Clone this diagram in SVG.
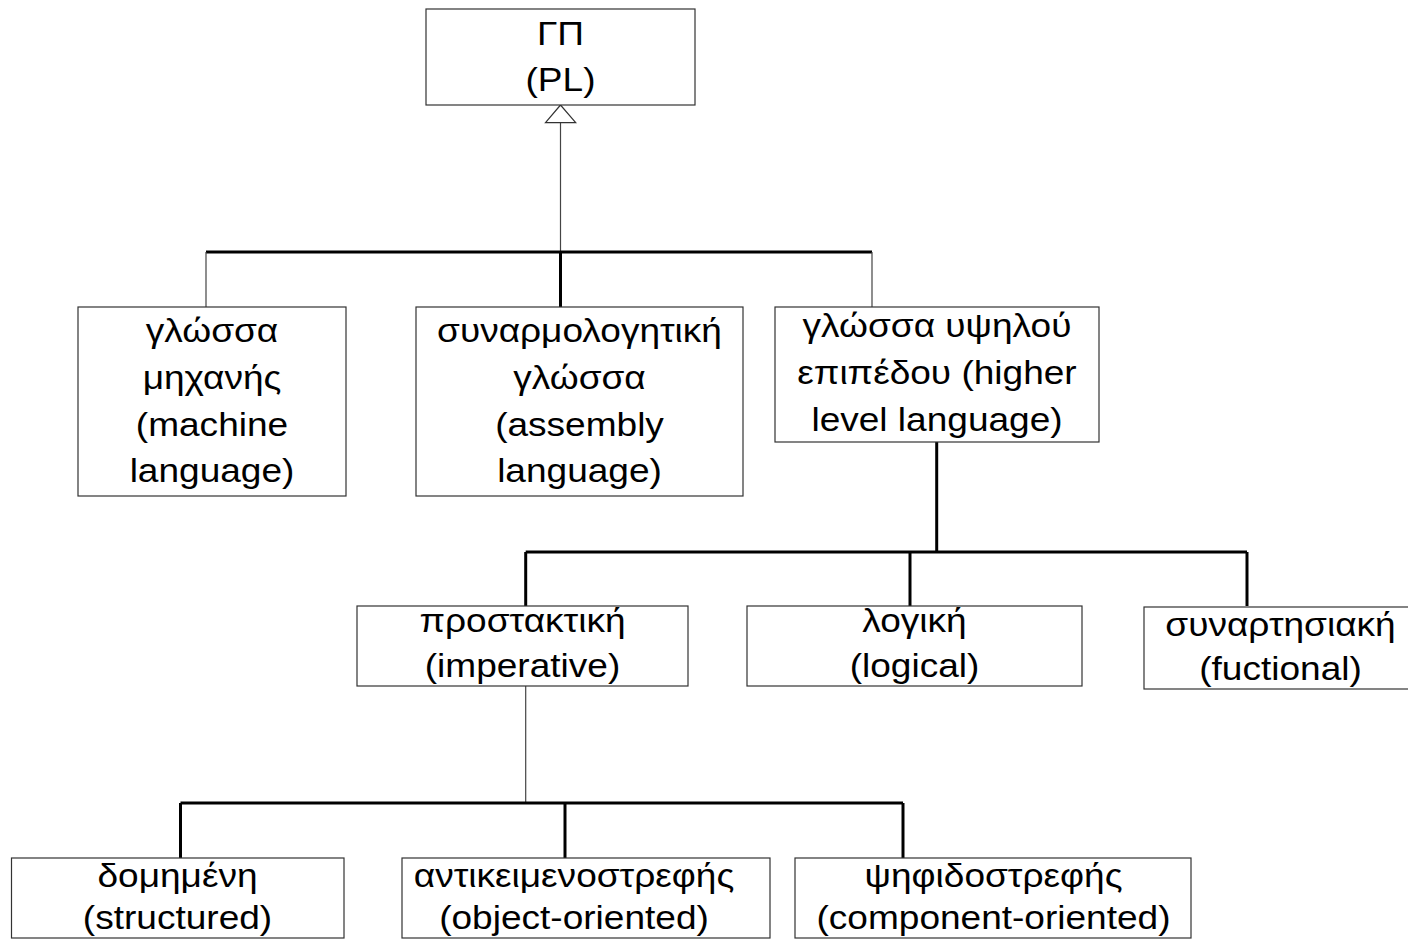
<svg xmlns="http://www.w3.org/2000/svg" width="1408" height="939" viewBox="0 0 1408 939">
<style>
  .box { fill: #ffffff; stroke: #333333; stroke-width: 1.2; }
  .lbl { font-family: "Liberation Sans", Arial, sans-serif; font-size: 32.5px; fill: #000000; text-anchor: middle; }
  .thick { stroke: #000000; stroke-width: 3; fill: none; }
  .thin { stroke: #444444; stroke-width: 1.2; fill: none; }
  .head { fill: #ffffff; stroke: #333333; stroke-width: 1.2; }
</style>
<rect width="1408" height="939" fill="#ffffff"/>

<g id="connectors">
  <!-- level 1 -->
  <line class="thin" x1="560.5" y1="123" x2="560.5" y2="252"/>
  <polygon class="head" points="560.5,105 545.5,122.7 575.7,122.7"/>
  <line class="thick" x1="206" y1="252" x2="872" y2="252"/>
  <line class="thin" x1="206" y1="252" x2="206" y2="307"/>
  <line class="thick" x1="560.5" y1="252" x2="560.5" y2="307"/>
  <line class="thin" x1="872" y1="252" x2="872" y2="307"/>
  <!-- level 2 -->
  <line class="thick" x1="936.7" y1="442" x2="936.7" y2="552"/>
  <line class="thick" x1="525.7" y1="552" x2="1247" y2="552"/>
  <line class="thick" x1="525.7" y1="552" x2="525.7" y2="606"/>
  <line class="thick" x1="910" y1="552" x2="910" y2="606"/>
  <line class="thick" x1="1247" y1="552" x2="1247" y2="606"/>
  <!-- level 3 -->
  <line class="thin" x1="525.7" y1="686" x2="525.7" y2="803"/>
  <line class="thick" x1="180.5" y1="803" x2="903" y2="803"/>
  <line class="thick" x1="180.5" y1="803" x2="180.5" y2="858"/>
  <line class="thick" x1="565" y1="803" x2="565" y2="858"/>
  <line class="thick" x1="903" y1="803" x2="903" y2="858"/>
</g>

<g id="node-pl">
  <rect class="box" x="426" y="9" width="269" height="96"/>
  <g transform="translate(560.5 0) scale(1.14 1)">
    <text class="lbl" x="0" y="45">ΓΠ</text>
    <text class="lbl" x="0" y="91">(PL)</text>
  </g>
</g>

<g id="node-machine">
  <rect class="box" x="78" y="307" width="268" height="189"/>
  <g transform="translate(212 0) scale(1.14 1)">
    <text class="lbl" x="0" y="342">γλώσσα</text>
    <text class="lbl" x="0" y="389">μηχανής</text>
    <text class="lbl" x="0" y="436">(machine</text>
    <text class="lbl" x="0" y="482">language)</text>
  </g>
</g>

<g id="node-assembly">
  <rect class="box" x="416" y="307" width="327" height="189"/>
  <g transform="translate(579.5 0) scale(1.14 1)">
    <text class="lbl" x="0" y="342">συναρμολογητική</text>
    <text class="lbl" x="0" y="389">γλώσσα</text>
    <text class="lbl" x="0" y="436">(assembly</text>
    <text class="lbl" x="0" y="482">language)</text>
  </g>
</g>

<g id="node-high">
  <rect class="box" x="775" y="307" width="324" height="135"/>
  <g transform="translate(937 0) scale(1.14 1)">
    <text class="lbl" x="0" y="337">γλώσσα υψηλού</text>
    <text class="lbl" x="0" y="384">επιπέδου (higher</text>
    <text class="lbl" x="0" y="431">level language)</text>
  </g>
</g>

<g id="node-imperative">
  <rect class="box" x="357" y="606" width="331" height="80"/>
  <g transform="translate(522.5 0) scale(1.14 1)">
    <text class="lbl" x="0" y="632">προστακτική</text>
    <text class="lbl" x="0" y="677">(imperative)</text>
  </g>
</g>

<g id="node-logical">
  <rect class="box" x="747" y="606" width="335" height="80"/>
  <g transform="translate(914.5 0) scale(1.14 1)">
    <text class="lbl" x="0" y="632">λογική</text>
    <text class="lbl" x="0" y="677">(logical)</text>
  </g>
</g>

<g id="node-functional">
  <rect class="box" x="1144" y="607" width="273" height="82"/>
  <g transform="translate(1280.5 0) scale(1.14 1)">
    <text class="lbl" x="0" y="636">συναρτησιακή</text>
    <text class="lbl" x="0" y="680">(fuctional)</text>
  </g>
</g>

<g id="node-structured">
  <rect class="box" x="11.5" y="858" width="332.5" height="80"/>
  <g transform="translate(177.5 0) scale(1.14 1)">
    <text class="lbl" x="0" y="887">δομημένη</text>
    <text class="lbl" x="0" y="929">(structured)</text>
  </g>
</g>

<g id="node-object">
  <rect class="box" x="402" y="858" width="368" height="80"/>
  <g transform="translate(574 0) scale(1.14 1)">
    <text class="lbl" x="0" y="887">αντικειμενοστρεφής</text>
    <text class="lbl" x="0" y="929">(object-oriented)</text>
  </g>
</g>

<g id="node-component">
  <rect class="box" x="795" y="858" width="396" height="80"/>
  <g transform="translate(993.5 0) scale(1.14 1)">
    <text class="lbl" x="0" y="887">ψηφιδοστρεφής</text>
    <text class="lbl" x="0" y="929">(component-oriented)</text>
  </g>
</g>
</svg>
